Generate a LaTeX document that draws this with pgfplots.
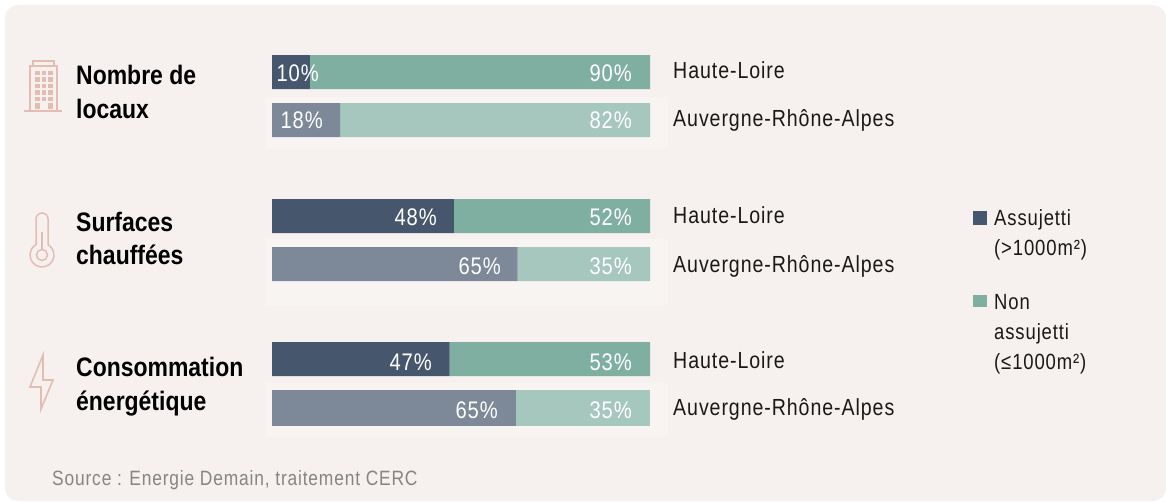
\documentclass[border=0pt]{standalone}
\usepackage{pgfplots}
\pgfplotsset{compat=1.18}
\usepackage{fontspec}
\setmainfont[FakeStretch=0.84,LetterSpace=4]{Liberation Sans}
\newfontfamily\boldf[FakeStretch=0.86,BoldFont={Liberation Sans Bold}]{Liberation Sans}
\definecolor{bg}{HTML}{F6F1EF}
\definecolor{bgl}{HTML}{F8F4F2}
\definecolor{dk}{HTML}{46566C}
\definecolor{dkl}{HTML}{7D8898}
\definecolor{gr}{HTML}{7FAFA0}
\definecolor{grl}{HTML}{A6C7BD}
\definecolor{ico}{HTML}{E3BDB1}
\definecolor{src}{HTML}{858585}
\pgfplotstableread{
y a b
72 10 90
216 48.1 51.9
359 47 53
}\hl
\pgfplotstableread{
y a b
120 18 82
264 65 35
}\ara
\pgfplotstableread{
y a b
408 64.5 35.5
}\arb
\begin{document}
\begin{tikzpicture}[x=1pt,y=1pt]
\path (0,0) rectangle (1166,501);
\fill[bg,rounded corners=13pt] (5,0) rectangle (1166,496);
\foreach \t/\b in {97/149,239/305,383/437}{\fill[bgl] (266,501-\t) rectangle (668,501-\b);}
\pgfplotsset{base/.style={at={(272pt,0pt)},anchor=south west,width=378pt,height=501pt,scale only axis,
  xmin=0,xmax=100,ymin=0,ymax=501,y dir=reverse,hide axis,clip=false,
  xbar stacked,bar shift=0pt}}
\begin{axis}[base,bar width=34pt]
\addplot[draw=none,fill=dk] table[x=a,y=y]{\hl};
\addplot[draw=none,fill=gr] table[x=b,y=y]{\hl};
\end{axis}
\begin{axis}[base,bar width=34pt]
\addplot[draw=none,fill=dkl] table[x=a,y=y]{\ara};
\addplot[draw=none,fill=grl] table[x=b,y=y]{\ara};
\end{axis}
\begin{axis}[base,bar width=36pt]
\addplot[draw=none,fill=dkl] table[x=a,y=y]{\arb};
\addplot[draw=none,fill=grl] table[x=b,y=y]{\arb};
\end{axis}
\tikzset{v/.style={text=white,font=\fontsize{24}{24}\selectfont,inner sep=0pt,anchor=base east},
 l/.style={font=\fontsize{23.3}{23.3}\selectfont,inner sep=0pt,anchor=base west,text=black!90},
 h/.style={font=\boldf\bfseries\fontsize{26.7}{26.7}\selectfont,inner sep=0pt,anchor=base west,text=black},
 g/.style={font=\fontsize{22}{22}\selectfont,inner sep=0pt,anchor=base west,text=black!90}}
\node[v] at (319,501-82) {10\%};
\node[v] at (632,501-82) {90\%};
\node[v] at (323,501-129) {18\%};
\node[v] at (632,501-129) {82\%};
\node[v] at (437,501-226) {48\%};
\node[v] at (632,501-226) {52\%};
\node[v] at (501,501-275) {65\%};
\node[v] at (632,501-275) {35\%};
\node[v] at (432,501-370) {47\%};
\node[v] at (632,501-370) {53\%};
\node[v] at (498,501-418) {65\%};
\node[v] at (632,501-418) {35\%};
\foreach \y in {79,224,368}{\node[l] at (673,501-\y) {Haute-Loire};}
\foreach \y in {127,272,415}{\node[l] at (673,501-\y) {Auvergne-Rhône-Alpes};}
\node[h] at (76,501-85) {Nombre de};
\node[h] at (76,501-119) {locaux};
\node[h] at (76,501-232) {Surfaces};
\node[h] at (76,501-265) {chauffées};
\node[h] at (76,501-376) {Consommation};
\node[h] at (76,501-410) {énergétique};
\fill[dk] (973,501-211) rectangle (987,501-225);
\fill[gr] (973,501-295) rectangle (987,501-307);
\node[g] at (994,501-226) {Assujetti};
\node[g] at (994,501-256) {(>1000m²)};
\node[g] at (994,501-309) {Non};
\node[g] at (994,501-339) {assujetti};
\node[g] at (994,501-369) {(≤1000m²)};
\node[font=\fontsize{20.7}{20.7}\selectfont,text=src,inner sep=0pt,anchor=base west] at (52,501-485) {Source : Energie Demain, traitement CERC};
\begin{scope}[draw=ico,line width=1.8pt]
\draw (30,501-111) -- (30,501-66) -- (57,501-66) -- (57,501-111);
\draw (33,501-66) -- (33,501-61) -- (54,501-61) -- (54,501-66);
\draw (24,501-111) -- (62,501-111);
\foreach \x in {35,41.5,48}{\foreach \y in {71,77.5,84,90.5,97}{\fill[ico] (\x,501-\y) rectangle ++(4.5,-4.5);}}
\fill[ico] (35,501-103) rectangle ++(4.5,-6);\fill[ico] (48,501-103) rectangle ++(4.5,-6);
\draw[line width=1.5pt] (36,501-219) arc[start angle=180,end angle=0,radius=6] -- (48,501-244.6) arc[start angle=60,end angle=-240,radius=12] -- cycle;
\draw[line width=1.5pt] (42,501-255) circle[radius=5.5];
\draw[line width=1.5pt] (42,501-232) -- (42,501-249.5);
\draw[line join=miter,line width=1.6pt] (43,501-355) -- (30,501-387) -- (41,501-387) -- (41,501-409) -- (53,501-380) -- (43,501-380) -- cycle;
\end{scope}
\end{tikzpicture}
\end{document}
